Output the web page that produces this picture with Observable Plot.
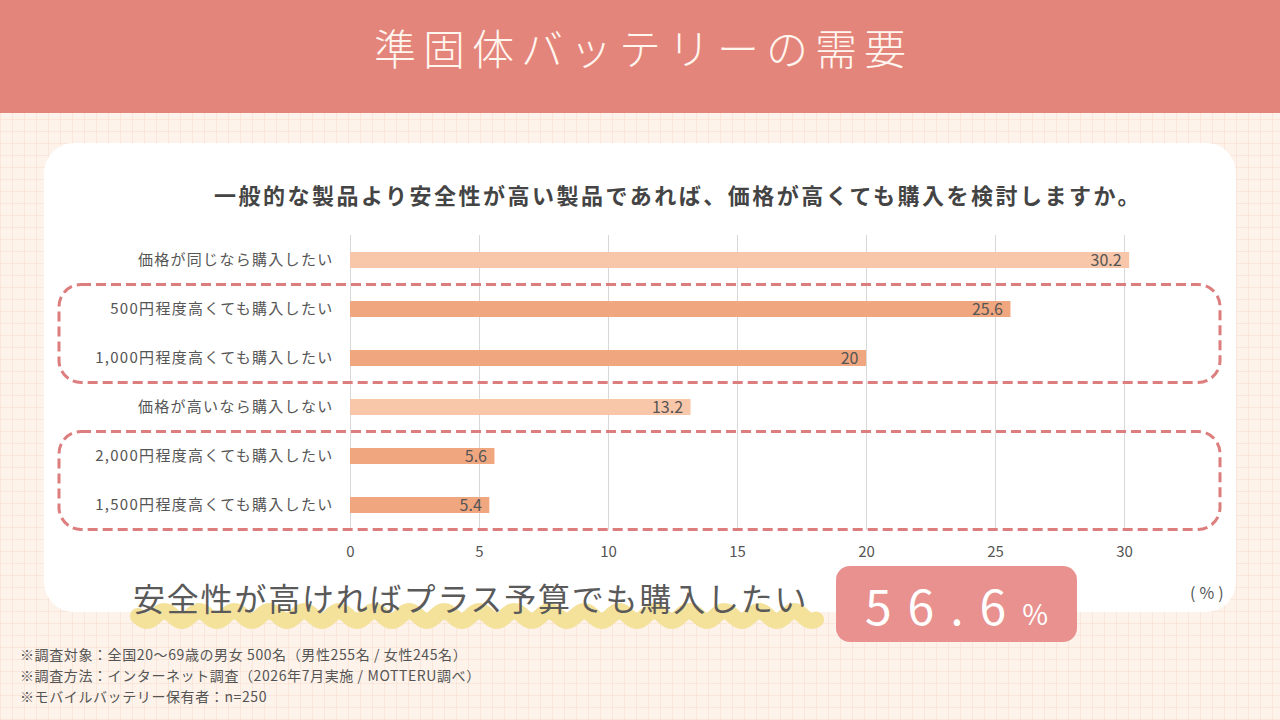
<!DOCTYPE html>
<html lang="ja">
<head>
<meta charset="utf-8">
<script src="https://cdn.jsdelivr.net/npm/d3@7"></script>
<script src="https://cdn.jsdelivr.net/npm/@observablehq/plot@0.6"></script>
<style>
  html, body { margin: 0; padding: 0; }
  body {
    width: 1280px; height: 720px; position: relative; overflow: hidden;
    font-family: "Noto Sans CJK JP", "Noto Sans", sans-serif;
    background-color: #fdf3ea;
    background-image:
      repeating-linear-gradient(0deg, rgba(238,190,170,0.22) 0 1px, transparent 1px 12px),
      repeating-linear-gradient(90deg, rgba(238,190,170,0.22) 0 1px, transparent 1px 12px);
  }
  #header {
    position: absolute; left: 0; top: 0; width: 1280px; height: 113px;
    background: #e4857b;
  }
  #title {
    position: absolute; left: 0; top: 0; width: 1280px; height: 94px; line-height: 94px;
    text-align: center; color: #fff6ef; font-size: 42px; font-weight: 300; letter-spacing: 7px;
    padding-left: 7px; box-sizing: border-box;
  }
  #card {
    position: absolute; left: 44px; top: 143px; width: 1192px; height: 469px;
    background: #fff; border-radius: 30px;
  }
  #subtitle {
    position: absolute; left: 678px; top: 178px; transform: translateX(-50%);
    white-space: nowrap; font-size: 22px; font-weight: 700; color: #444; letter-spacing: 2.5px;
  }
  #chart { position: absolute; left: 0; top: 225px; }
  #chart text { letter-spacing: 1.3px; }
  #chart g[aria-label="x-axis tick label"] text, #chart g[aria-label="text"] text { letter-spacing: 0; }
  #wave { position: absolute; left: 0; top: 0; }
  #phrase {
    position: absolute; left: 133px; top: 574px; white-space: nowrap;
    font-size: 32px; color: #5a5a5a; letter-spacing: 1.8px; font-weight: 400;
  }
  #bigbox {
    position: absolute; left: 836px; top: 566px; width: 241px; height: 76px;
    background: #e8918f; border-radius: 14px; color: #fff;
    text-align: center; line-height: 76px; white-space: nowrap;
  }
  #bigbox .num { font-size: 48px; letter-spacing: 16px; font-weight: 400; }
  #bigbox .pct { font-size: 28px; font-weight: 400; }
  #unit { position: absolute; left: 1190px; top: 580px; font-size: 16px; color: #555; letter-spacing: 4px; }
  #notes {
    position: absolute; left: 20px; top: 644px; font-size: 14px; color: #555; line-height: 21px;
    letter-spacing: 0.6px;
  }
</style>
</head>
<body>
<div id="header"></div>
<div id="title">準固体バッテリーの需要</div>
<div id="card"></div>
<div id="subtitle">一般的な製品より安全性が高い製品であれば、価格が高くても購入を検討しますか。</div>
<div id="chart"></div>
<svg id="wave" width="1280" height="720"></svg>
<div id="phrase">安全性が高ければプラス予算でも購入したい</div>
<div id="bigbox"><span class="num">56.6</span><span class="pct">%</span></div>
<div id="unit">(%)</div>
<div id="notes">
  ※調査対象：全国20〜69歳の男女 500名（男性255名 / 女性245名）<br>
  ※調査方法：インターネット調査（2026年7月実施 / MOTTERU調べ）<br>
  ※モバイルバッテリー保有者：n=250
</div>
<script>
// ---- data ----
const categories = [
  "価格が同じなら購入したい",
  "500円程度高くても購入したい",
  "1,000円程度高くても購入したい",
  "価格が高いなら購入しない",
  "2,000円程度高くても購入したい",
  "1,500円程度高くても購入したい"
];
const values = [30.2, 25.6, 20, 13.2, 5.6, 5.4];
const groups = ["base", "premium", "premium", "base", "premium", "premium"];
const xTicks = [0, 5, 10, 15, 20, 25, 30];
const boxedGroups = [
  ["500円程度高くても購入したい", "1,000円程度高くても購入したい"],
  ["2,000円程度高くても購入したい", "1,500円程度高くても購入したい"]
];

const rows = categories.map((c, i) => ({ category: c, value: values[i], group: groups[i] }));

const plot = Plot.plot({
  width: 1280,
  height: 340,
  marginLeft: 350,
  marginRight: 156,
  marginTop: 10,
  marginBottom: 35,
  style: { background: "transparent", fontFamily: "'Noto Sans CJK JP', sans-serif", fontSize: "15px", color: "#555", overflow: "visible" },
  x: { domain: [0, 30], ticks: xTicks },
  y: { domain: categories, paddingInner: 0.676, paddingOuter: 0.324 },
  color: { domain: ["base", "premium"], range: ["#f8c6a9", "#f0a67f"] },
  marks: [
    Plot.gridX(xTicks, { stroke: "#d8d8d8", strokeOpacity: 1, strokeWidth: 1 }),
    Plot.axisX(xTicks, { tickSize: 0, tickPadding: 16, label: null, fill: "#555", fontSize: 15 }),
    Plot.axisY({ tickSize: 0, tickPadding: 17, label: null, fill: "#555", fontSize: 15 }),
    Plot.barX(rows, { x: "value", y: "category", fill: "group" }),
    Plot.text(rows, { x: "value", y: "category", text: d => String(d.value), textAnchor: "end", dx: -8, fill: "#555", fontSize: 16 })
  ]
});
document.getElementById("chart").appendChild(plot);

// dashed grouping boxes positioned from the y scale
const ys = plot.scale("y");
const svg = d3.select(plot);
boxedGroups.forEach(g => {
  const top = ys.apply(g[0]) + ys.bandwidth / 2 - ys.step / 2;
  const bottom = ys.apply(g[g.length - 1]) + ys.bandwidth / 2 + ys.step / 2;
  svg.append("rect")
    .attr("x", 59).attr("y", top)
    .attr("width", 1220 - 59).attr("height", bottom - top)
    .attr("rx", 22).attr("ry", 22)
    .attr("fill", "none")
    .attr("stroke", "#dc7d7e")
    .attr("stroke-width", 3)
    .attr("stroke-dasharray", "10 5");
});

// wavy highlighter under the phrase
const w = d3.select("#wave");
const pts = [];
for (let x = 138; x <= 816; x += 2) pts.push([x, 616 + 5 * Math.sin((x - 138) / 35 * 2 * Math.PI)]);
w.append("path")
  .attr("d", d3.line()(pts))
  .attr("fill", "none")
  .attr("stroke", "#f4e19a")
  .attr("stroke-width", 16)
  .attr("stroke-linecap", "round");
</script>
</body>
</html>
